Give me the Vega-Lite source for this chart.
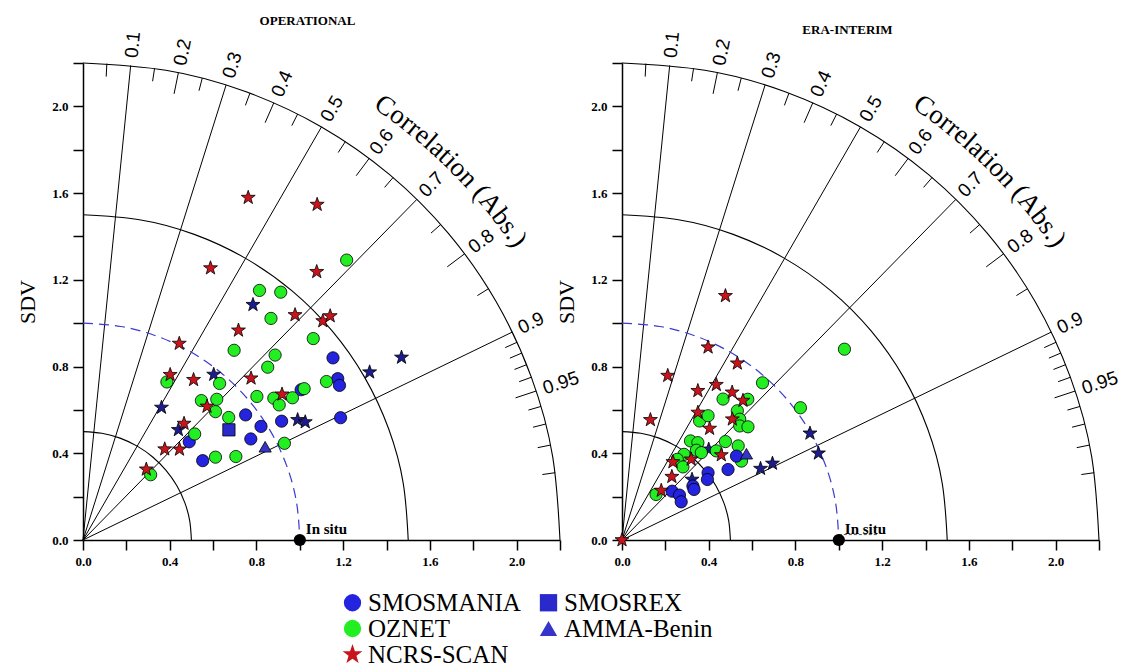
{
"$schema": "https://vega.github.io/schema/vega-lite/v6.json",
"background": "white",
"padding": {"left": 16, "top": 14, "right": 5, "bottom": 5},
"bounds": "flush",
"spacing": 62,
"config": {
 "view": {"stroke": null},
 "axis": {"grid": false, "domainColor": "black", "domainWidth": 1.5, "tickColor": "black", "tickWidth": 1.5, "tickSize": 10, "labelFont": "Liberation Serif", "labelFontWeight": "bold", "labelFontSize": 13, "labelColor": "black", "labelPadding": 5, "labelFlush": false, "labelOverlap": false, "labelBound": false, "titleFont": "Liberation Serif", "titleFontSize": 22, "titleFontWeight": "normal", "titleColor": "black"},
 "legend": {"labelFont": "Liberation Serif", "labelFontSize": 25, "labelColor": "black"},
 "title": {"font": "Liberation Serif", "fontSize": 13, "fontWeight": "bold", "color": "black", "frame": "group", "anchor": "middle"}
},
"datasets": {
 "arcSolid": [
  {"arc":"a05","x":0.5,"y":0},{"arc":"a05","x":0.4924,"y":0.0868},{"arc":"a05","x":0.4699,"y":0.171},{"arc":"a05","x":0.433,"y":0.25},{"arc":"a05","x":0.383,"y":0.3214},{"arc":"a05","x":0.3214,"y":0.383},{"arc":"a05","x":0.25,"y":0.433},{"arc":"a05","x":0.171,"y":0.4699},{"arc":"a05","x":0.0868,"y":0.4924},{"arc":"a05","x":0,"y":0.5},
  {"arc":"a15","x":1.5,"y":0},{"arc":"a15","x":1.4772,"y":0.2604},{"arc":"a15","x":1.4096,"y":0.513},{"arc":"a15","x":1.299,"y":0.75},{"arc":"a15","x":1.149,"y":0.9642},{"arc":"a15","x":0.9642,"y":1.149},{"arc":"a15","x":0.75,"y":1.299},{"arc":"a15","x":0.513,"y":1.4096},{"arc":"a15","x":0.2604,"y":1.4772},{"arc":"a15","x":0,"y":1.5},
  {"arc":"a22","x":2.2,"y":0},{"arc":"a22","x":2.1666,"y":0.3819},{"arc":"a22","x":2.0673,"y":0.7524},{"arc":"a22","x":1.9052,"y":1.1},{"arc":"a22","x":1.6852,"y":1.4142},{"arc":"a22","x":1.4142,"y":1.6852},{"arc":"a22","x":1.1,"y":1.9052},{"arc":"a22","x":0.7524,"y":2.0673},{"arc":"a22","x":0.3819,"y":2.1666},{"arc":"a22","x":0,"y":2.2}
 ],
 "arcDash": [
  {"x":1,"y":0},{"x":0.9848,"y":0.1736},{"x":0.9397,"y":0.342},{"x":0.866,"y":0.5},{"x":0.766,"y":0.6428},{"x":0.6428,"y":0.766},{"x":0.5,"y":0.866},{"x":0.342,"y":0.9397},{"x":0.1736,"y":0.9848},{"x":0,"y":1}
 ],
 "segments": [
  {"x1":0,"y1":0,"x2":0.22,"y2":2.189},{"x1":0,"y1":0,"x2":0.66,"y2":2.0987},{"x1":0,"y1":0,"x2":1.1,"y2":1.9053},{"x1":0,"y1":0,"x2":1.54,"y2":1.5711},{"x1":0,"y1":0,"x2":1.98,"y2":0.959},
  {"x1":0.44,"y1":2.1556,"x2":0.42,"y2":2.0576},{"x1":0.88,"y1":2.0163,"x2":0.84,"y2":1.9247},{"x1":1.32,"y1":1.76,"x2":1.26,"y2":1.68},{"x1":1.76,"y1":1.32,"x2":1.68,"y2":1.26},{"x1":2.09,"y1":0.687,"x2":1.995,"y2":0.6557},
  {"x1":0.11,"y1":2.1973,"x2":0.107,"y2":2.1373},{"x1":0.33,"y1":2.1751,"x2":0.321,"y2":2.1158},{"x1":0.55,"y1":2.1302,"x2":0.535,"y2":2.0721},{"x1":0.77,"y1":2.0609,"x2":0.749,"y2":2.0046},{"x1":0.99,"y1":1.9647,"x2":0.963,"y2":1.9111},{"x1":1.21,"y1":1.8374,"x2":1.177,"y2":1.7872},{"x1":1.43,"y1":1.6718,"x2":1.391,"y2":1.6263},{"x1":1.65,"y1":1.4552,"x2":1.605,"y2":1.4155},{"x1":1.87,"y1":1.1589,"x2":1.819,"y2":1.1273},
  {"x1":2.002,"y1":0.9121,"x2":1.9474,"y2":0.8873},{"x1":2.024,"y1":0.8622,"x2":1.9688,"y2":0.8387},{"x1":2.046,"y1":0.8086,"x2":1.9902,"y2":0.7866},{"x1":2.068,"y1":0.7506,"x2":2.0116,"y2":0.7301},{"x1":2.112,"y1":0.616,"x2":2.0544,"y2":0.5992},{"x1":2.134,"y1":0.5348,"x2":2.0758,"y2":0.5202},{"x1":2.156,"y1":0.4378,"x2":2.0972,"y2":0.4259},{"x1":2.178,"y1":0.3104,"x2":2.1186,"y2":0.3019}
 ],
 "clabels": [
  {"lab":"0.1","x":0.2235,"y":2.2238,"theta":84.26},{"lab":"0.2","x":0.447,"y":2.1899,"theta":78.46},{"lab":"0.3","x":0.6705,"y":2.1321,"theta":72.54},{"lab":"0.4","x":0.894,"y":2.0484,"theta":66.42},{"lab":"0.5","x":1.1175,"y":1.9356,"theta":60},{"lab":"0.6","x":1.341,"y":1.788,"theta":53.13},{"lab":"0.7","x":1.5645,"y":1.5961,"theta":45.57},{"lab":"0.8","x":1.788,"y":1.341,"theta":36.87},{"lab":"0.9","x":2.0115,"y":0.9742,"theta":25.84},{"lab":"0.95","x":2.1233,"y":0.6979,"theta":18.19}
 ],
 "ctext": [
  {"ch":"C","x":1.391,"y":2.001,"dir":-34.8},{"ch":"o","x":1.452,"y":1.957,"dir":-36.57},{"ch":"r","x":1.495,"y":1.925,"dir":-37.83},{"ch":"r","x":1.528,"y":1.898,"dir":-38.84},{"ch":"e","x":1.567,"y":1.867,"dir":-40.01},{"ch":"l","x":1.602,"y":1.836,"dir":-41.11},{"ch":"a","x":1.637,"y":1.805,"dir":-42.2},{"ch":"t","x":1.671,"y":1.774,"dir":-43.29},{"ch":"i","x":1.697,"y":1.749,"dir":-44.13},{"ch":"o","x":1.732,"y":1.714,"dir":-45.31},{"ch":"n","x":1.777,"y":1.668,"dir":-46.82},{"ch":"(","x":1.834,"y":1.604,"dir":-48.84},{"ch":"A","x":1.879,"y":1.552,"dir":-50.44},{"ch":"b","x":1.928,"y":1.49,"dir":-52.29},{"ch":"s","x":1.962,"y":1.445,"dir":-53.63},{"ch":".","x":1.986,"y":1.412,"dir":-54.6},{"ch":")","x":2.008,"y":1.381,"dir":-55.48}
 ],
 "ref": [{"x":1,"y":0,"label":"In situ"}],
 "refLine": [{"x":1.0,"x2":1.18,"y":0.025}],
 "opsPts": [
  {"net":"SMOSMANIA","x":1.153,"y":0.84},{"net":"SMOSMANIA","x":1.175,"y":0.744},{"net":"SMOSMANIA","x":1.183,"y":0.713},{"net":"SMOSMANIA","x":1.006,"y":0.693},{"net":"SMOSMANIA","x":0.75,"y":0.577},{"net":"SMOSMANIA","x":0.821,"y":0.524},{"net":"SMOSMANIA","x":0.916,"y":0.548},{"net":"SMOSMANIA","x":0.774,"y":0.466},{"net":"SMOSMANIA","x":0.49,"y":0.453},{"net":"SMOSMANIA","x":0.552,"y":0.366},{"net":"SMOSMANIA","x":1.188,"y":0.564},
  {"net":"SMOSREX","x":0.673,"y":0.508},
  {"net":"AMMA-Benin","x":0.84,"y":0.43},
  {"net":"OZNET","x":1.216,"y":1.291},{"net":"OZNET","x":0.814,"y":1.151},{"net":"OZNET","x":0.912,"y":1.143},{"net":"OZNET","x":0.867,"y":1.022},{"net":"OZNET","x":1.062,"y":0.929},{"net":"OZNET","x":0.697,"y":0.875},{"net":"OZNET","x":0.886,"y":0.853},{"net":"OZNET","x":0.852,"y":0.797},{"net":"OZNET","x":0.387,"y":0.729},{"net":"OZNET","x":0.63,"y":0.722},{"net":"OZNET","x":1.123,"y":0.731},{"net":"OZNET","x":1.02,"y":0.698},{"net":"OZNET","x":0.802,"y":0.662},{"net":"OZNET","x":0.88,"y":0.654},{"net":"OZNET","x":0.966,"y":0.656},{"net":"OZNET","x":0.905,"y":0.623},{"net":"OZNET","x":0.546,"y":0.643},{"net":"OZNET","x":0.617,"y":0.649},{"net":"OZNET","x":0.611,"y":0.592},{"net":"OZNET","x":0.672,"y":0.565},{"net":"OZNET","x":0.515,"y":0.489},{"net":"OZNET","x":0.611,"y":0.382},{"net":"OZNET","x":0.705,"y":0.385},{"net":"OZNET","x":0.929,"y":0.446},{"net":"OZNET","x":0.312,"y":0.301},
  {"net":"NCRS-SCAN","x":0.762,"y":1.579},{"net":"NCRS-SCAN","x":1.08,"y":1.547},{"net":"NCRS-SCAN","x":0.588,"y":1.254},{"net":"NCRS-SCAN","x":1.078,"y":1.237},{"net":"NCRS-SCAN","x":0.978,"y":1.038},{"net":"NCRS-SCAN","x":1.106,"y":1.01},{"net":"NCRS-SCAN","x":1.14,"y":1.033},{"net":"NCRS-SCAN","x":0.717,"y":0.967},{"net":"NCRS-SCAN","x":0.444,"y":0.906},{"net":"NCRS-SCAN","x":0.402,"y":0.762},{"net":"NCRS-SCAN","x":0.51,"y":0.739},{"net":"NCRS-SCAN","x":0.775,"y":0.746},{"net":"NCRS-SCAN","x":0.918,"y":0.672},{"net":"NCRS-SCAN","x":0.572,"y":0.616},{"net":"NCRS-SCAN","x":0.466,"y":0.537},{"net":"NCRS-SCAN","x":0.377,"y":0.419},{"net":"NCRS-SCAN","x":0.445,"y":0.418},{"net":"NCRS-SCAN","x":0.292,"y":0.326},
  {"net":"other","x":0.784,"y":1.085},{"net":"other","x":0.603,"y":0.763},{"net":"other","x":0.362,"y":0.611},{"net":"other","x":0.44,"y":0.508},{"net":"other","x":0.99,"y":0.554},{"net":"other","x":1.025,"y":0.544},{"net":"other","x":1.322,"y":0.774},{"net":"other","x":1.469,"y":0.842}
 ],
 "eraPts": [
  {"net":"OZNET","x":1.026,"y":0.88},{"net":"OZNET","x":0.648,"y":0.725},{"net":"OZNET","x":0.823,"y":0.61},{"net":"OZNET","x":0.58,"y":0.649},{"net":"OZNET","x":0.466,"y":0.65},{"net":"OZNET","x":0.532,"y":0.596},{"net":"OZNET","x":0.543,"y":0.557},{"net":"OZNET","x":0.543,"y":0.526},{"net":"OZNET","x":0.581,"y":0.522},{"net":"OZNET","x":0.536,"y":0.434},{"net":"OZNET","x":0.551,"y":0.364},{"net":"OZNET","x":0.358,"y":0.549},{"net":"OZNET","x":0.397,"y":0.573},{"net":"OZNET","x":0.316,"y":0.457},{"net":"OZNET","x":0.35,"y":0.449},{"net":"OZNET","x":0.343,"y":0.414},{"net":"OZNET","x":0.366,"y":0.403},{"net":"OZNET","x":0.435,"y":0.411},{"net":"OZNET","x":0.477,"y":0.454},{"net":"OZNET","x":0.286,"y":0.395},{"net":"OZNET","x":0.255,"y":0.372},{"net":"OZNET","x":0.281,"y":0.337},{"net":"OZNET","x":0.157,"y":0.21},
  {"net":"SMOSMANIA","x":0.528,"y":0.387},{"net":"SMOSMANIA","x":0.489,"y":0.325},{"net":"SMOSMANIA","x":0.231,"y":0.225},{"net":"SMOSMANIA","x":0.265,"y":0.207},{"net":"SMOSMANIA","x":0.273,"y":0.176},{"net":"SMOSMANIA","x":0.327,"y":0.249},{"net":"SMOSMANIA","x":0.332,"y":0.233},{"net":"SMOSMANIA","x":0.397,"y":0.31},{"net":"SMOSMANIA","x":0.394,"y":0.279},
  {"net":"AMMA-Benin","x":0.574,"y":0.398},
  {"net":"NCRS-SCAN","x":0.477,"y":1.126},{"net":"NCRS-SCAN","x":0.397,"y":0.889},{"net":"NCRS-SCAN","x":0.532,"y":0.815},{"net":"NCRS-SCAN","x":0.211,"y":0.758},{"net":"NCRS-SCAN","x":0.35,"y":0.688},{"net":"NCRS-SCAN","x":0.435,"y":0.716},{"net":"NCRS-SCAN","x":0.508,"y":0.681},{"net":"NCRS-SCAN","x":0.558,"y":0.643},{"net":"NCRS-SCAN","x":0.131,"y":0.554},{"net":"NCRS-SCAN","x":0.35,"y":0.588},{"net":"NCRS-SCAN","x":0.404,"y":0.514},{"net":"NCRS-SCAN","x":0.509,"y":0.557},{"net":"NCRS-SCAN","x":0.458,"y":0.392},{"net":"NCRS-SCAN","x":0.319,"y":0.372},{"net":"NCRS-SCAN","x":0.235,"y":0.36},{"net":"NCRS-SCAN","x":0.23,"y":0.292},{"net":"NCRS-SCAN","x":0.181,"y":0.228},{"net":"NCRS-SCAN","x":0,"y":0},
  {"net":"other","x":0.867,"y":0.492},{"net":"other","x":0.906,"y":0.4},{"net":"other","x":0.694,"y":0.353},{"net":"other","x":0.639,"y":0.329},{"net":"other","x":0.4,"y":0.418},{"net":"other","x":0.323,"y":0.279}
 ]
},
"hconcat": [
 {
  "width": 477, "height": 477,
  "title": {"text": "OPERATIONAL", "offset": 3, "dx": -14},
  "layer": [
   {"data": {"name": "arcSolid"}, "mark": {"type": "line", "interpolate": "natural", "color": "black", "strokeWidth": 1.1},
    "encoding": {
     "x": {"field": "x", "type": "quantitative", "scale": {"domain": [0, 2.2], "nice": false}, "axis": {"title": null, "values": [0,0.2,0.4,0.6,0.8,1.0,1.2,1.4,1.6,1.8,2.0,2.2], "labelExpr": "round(datum.value*10)%4==0 ? format(datum.value,'.1f') : ''"}},
     "y": {"field": "y", "type": "quantitative", "scale": {"domain": [0, 2.2], "nice": false}, "axis": {"title": "SDV", "titlePadding": 12, "values": [0,0.2,0.4,0.6,0.8,1.0,1.2,1.4,1.6,1.8,2.0,2.2], "labelExpr": "round(datum.value*10)%4==0 ? format(datum.value,'.1f') : ''"}},
     "detail": {"field": "arc"}}},
   {"data": {"name": "segments"}, "mark": {"type": "rule", "color": "black", "strokeWidth": 1},
    "encoding": {"x": {"field": "x1", "type": "quantitative"}, "y": {"field": "y1", "type": "quantitative"}, "x2": {"field": "x2"}, "y2": {"field": "y2"}}},
   {"data": {"name": "arcDash"}, "mark": {"type": "line", "interpolate": "natural", "color": "#3a3ad0", "strokeWidth": 1.2, "strokeDash": [10, 6]},
    "encoding": {"x": {"field": "x", "type": "quantitative"}, "y": {"field": "y", "type": "quantitative"}}},
   {"data": {"name": "clabels"}, "mark": {"type": "text", "align": "left", "baseline": "middle", "font": "Liberation Sans", "fontSize": 19, "color": "black"},
    "encoding": {"x": {"field": "x", "type": "quantitative"}, "y": {"field": "y", "type": "quantitative"}, "text": {"field": "lab"}, "angle": {"field": "theta", "type": "quantitative", "scale": {"domain": [-90, 90], "range": [450, 270]}}}},
   {"data": {"name": "ctext"}, "mark": {"type": "text", "align": "center", "baseline": "middle", "font": "Liberation Serif", "fontSize": 27, "color": "black"},
    "encoding": {"x": {"field": "x", "type": "quantitative"}, "y": {"field": "y", "type": "quantitative"}, "text": {"field": "ch"}, "angle": {"field": "dir", "type": "quantitative", "scale": {"domain": [-90, 90], "range": [450, 270]}}}},
   {"data": {"name": "opsPts"}, "transform": [{"filter": "datum.net == 'other'"}],
    "mark": {"type": "point", "filled": true, "size": 150, "opacity": 1, "fill": "#1c1c8e", "stroke": "black", "strokeWidth": 0.8, "shape": "M0,-1.2L0.2821,-0.3883L1.1413,-0.3708L0.4565,0.1483L0.7054,0.9708L0,0.48L-0.7054,0.9708L-0.4565,0.1483L-1.1413,-0.3708L-0.2821,-0.3883Z"},
    "encoding": {"x": {"field": "x", "type": "quantitative"}, "y": {"field": "y", "type": "quantitative"}}},
   {"data": {"name": "opsPts"}, "transform": [{"filter": "datum.net != 'other'"}],
    "mark": {"type": "point", "filled": true, "size": 150, "opacity": 1, "stroke": "black", "strokeWidth": 0.8},
    "encoding": {"x": {"field": "x", "type": "quantitative"}, "y": {"field": "y", "type": "quantitative"},
     "fill": {"field": "net", "type": "nominal", "scale": {"domain": ["SMOSMANIA", "OZNET", "NCRS-SCAN", "SMOSREX", "AMMA-Benin"], "range": ["#2323e0", "#22ee22", "#c8141c", "#2a2acc", "#3535cc"]},
      "legend": {"title": null, "orient": "none", "legendX": 257, "legendY": 527, "columns": 2, "labelFont": "Liberation Serif", "labelFontSize": 25, "labelColor": "black", "symbolSize": 300, "symbolStrokeColor": "black", "symbolStrokeWidth": 1, "rowPadding": 0, "columnPadding": 15, "labelOffset": 3, "labelLimit": 400, "padding": 0}},
     "shape": {"field": "net", "type": "nominal", "scale": {"domain": ["SMOSMANIA", "OZNET", "NCRS-SCAN", "SMOSREX", "AMMA-Benin"], "range": ["circle", "circle", "M0,-1.2L0.2821,-0.3883L1.1413,-0.3708L0.4565,0.1483L0.7054,0.9708L0,0.48L-0.7054,0.9708L-0.4565,0.1483L-1.1413,-0.3708L-0.2821,-0.3883Z", "square", "triangle-up"]},
      "legend": {"title": null, "orient": "none", "legendX": 257, "legendY": 527, "columns": 2, "labelFont": "Liberation Serif", "labelFontSize": 25, "labelColor": "black", "symbolSize": 300, "symbolStrokeColor": "black", "symbolStrokeWidth": 1, "rowPadding": 0, "columnPadding": 15, "labelOffset": 3, "labelLimit": 400, "padding": 0}}}},
   {"data": {"name": "ref"}, "mark": {"type": "point", "filled": true, "size": 150, "color": "black", "opacity": 1},
    "encoding": {"x": {"field": "x", "type": "quantitative"}, "y": {"field": "y", "type": "quantitative"}}},
   {"data": {"name": "ref"}, "mark": {"type": "text", "align": "left", "baseline": "bottom", "dx": 6, "dy": -3, "font": "Liberation Serif", "fontWeight": "bold", "fontSize": 15, "color": "black"},
    "encoding": {"x": {"field": "x", "type": "quantitative"}, "y": {"field": "y", "type": "quantitative"}, "text": {"field": "label"}}}
  ]
 },
 {
  "width": 477, "height": 477,
  "title": {"text": "ERA-INTERIM", "offset": -6, "dx": -13},
  "layer": [
   {"data": {"name": "arcSolid"}, "mark": {"type": "line", "interpolate": "natural", "color": "black", "strokeWidth": 1.1},
    "encoding": {
     "x": {"field": "x", "type": "quantitative", "scale": {"domain": [0, 2.2], "nice": false}, "axis": {"title": null, "values": [0,0.2,0.4,0.6,0.8,1.0,1.2,1.4,1.6,1.8,2.0,2.2], "labelExpr": "round(datum.value*10)%4==0 ? format(datum.value,'.1f') : ''"}},
     "y": {"field": "y", "type": "quantitative", "scale": {"domain": [0, 2.2], "nice": false}, "axis": {"title": "SDV", "titlePadding": 12, "values": [0,0.2,0.4,0.6,0.8,1.0,1.2,1.4,1.6,1.8,2.0,2.2], "labelExpr": "round(datum.value*10)%4==0 ? format(datum.value,'.1f') : ''"}},
     "detail": {"field": "arc"}}},
   {"data": {"name": "segments"}, "mark": {"type": "rule", "color": "black", "strokeWidth": 1},
    "encoding": {"x": {"field": "x1", "type": "quantitative"}, "y": {"field": "y1", "type": "quantitative"}, "x2": {"field": "x2"}, "y2": {"field": "y2"}}},
   {"data": {"name": "arcDash"}, "mark": {"type": "line", "interpolate": "natural", "color": "#3a3ad0", "strokeWidth": 1.2, "strokeDash": [10, 6]},
    "encoding": {"x": {"field": "x", "type": "quantitative"}, "y": {"field": "y", "type": "quantitative"}}},
   {"data": {"name": "refLine"}, "mark": {"type": "rule", "color": "#555555", "strokeWidth": 1, "strokeDash": [3, 2]},
    "encoding": {"x": {"field": "x", "type": "quantitative"}, "x2": {"field": "x2"}, "y": {"field": "y", "type": "quantitative"}}},
   {"data": {"name": "clabels"}, "mark": {"type": "text", "align": "left", "baseline": "middle", "font": "Liberation Sans", "fontSize": 19, "color": "black"},
    "encoding": {"x": {"field": "x", "type": "quantitative"}, "y": {"field": "y", "type": "quantitative"}, "text": {"field": "lab"}, "angle": {"field": "theta", "type": "quantitative", "scale": {"domain": [-90, 90], "range": [450, 270]}}}},
   {"data": {"name": "ctext"}, "mark": {"type": "text", "align": "center", "baseline": "middle", "font": "Liberation Serif", "fontSize": 27, "color": "black"},
    "encoding": {"x": {"field": "x", "type": "quantitative"}, "y": {"field": "y", "type": "quantitative"}, "text": {"field": "ch"}, "angle": {"field": "dir", "type": "quantitative", "scale": {"domain": [-90, 90], "range": [450, 270]}}}},
   {"data": {"name": "eraPts"}, "transform": [{"filter": "datum.net == 'other'"}],
    "mark": {"type": "point", "filled": true, "size": 150, "opacity": 1, "fill": "#1c1c8e", "stroke": "black", "strokeWidth": 0.8, "shape": "M0,-1.2L0.2821,-0.3883L1.1413,-0.3708L0.4565,0.1483L0.7054,0.9708L0,0.48L-0.7054,0.9708L-0.4565,0.1483L-1.1413,-0.3708L-0.2821,-0.3883Z"},
    "encoding": {"x": {"field": "x", "type": "quantitative"}, "y": {"field": "y", "type": "quantitative"}}},
   {"data": {"name": "eraPts"}, "transform": [{"filter": "datum.net != 'other'"}],
    "mark": {"type": "point", "filled": true, "size": 150, "opacity": 1, "stroke": "black", "strokeWidth": 0.8},
    "encoding": {"x": {"field": "x", "type": "quantitative"}, "y": {"field": "y", "type": "quantitative"},
     "fill": {"field": "net", "type": "nominal", "scale": {"domain": ["SMOSMANIA", "OZNET", "NCRS-SCAN", "SMOSREX", "AMMA-Benin"], "range": ["#2323e0", "#22ee22", "#c8141c", "#2a2acc", "#3535cc"]},
      "legend": {"title": null, "orient": "none", "legendX": 257, "legendY": 527, "columns": 2, "labelFont": "Liberation Serif", "labelFontSize": 25, "labelColor": "black", "symbolSize": 300, "symbolStrokeColor": "black", "symbolStrokeWidth": 1, "rowPadding": 0, "columnPadding": 15, "labelOffset": 3, "labelLimit": 400, "padding": 0}},
     "shape": {"field": "net", "type": "nominal", "scale": {"domain": ["SMOSMANIA", "OZNET", "NCRS-SCAN", "SMOSREX", "AMMA-Benin"], "range": ["circle", "circle", "M0,-1.2L0.2821,-0.3883L1.1413,-0.3708L0.4565,0.1483L0.7054,0.9708L0,0.48L-0.7054,0.9708L-0.4565,0.1483L-1.1413,-0.3708L-0.2821,-0.3883Z", "square", "triangle-up"]},
      "legend": {"title": null, "orient": "none", "legendX": 257, "legendY": 527, "columns": 2, "labelFont": "Liberation Serif", "labelFontSize": 25, "labelColor": "black", "symbolSize": 300, "symbolStrokeColor": "black", "symbolStrokeWidth": 1, "rowPadding": 0, "columnPadding": 15, "labelOffset": 3, "labelLimit": 400, "padding": 0}}}},
   {"data": {"name": "ref"}, "mark": {"type": "point", "filled": true, "size": 150, "color": "black", "opacity": 1},
    "encoding": {"x": {"field": "x", "type": "quantitative"}, "y": {"field": "y", "type": "quantitative"}}},
   {"data": {"name": "ref"}, "mark": {"type": "text", "align": "left", "baseline": "bottom", "dx": 6, "dy": -3, "font": "Liberation Serif", "fontWeight": "bold", "fontSize": 15, "color": "black"},
    "encoding": {"x": {"field": "x", "type": "quantitative"}, "y": {"field": "y", "type": "quantitative"}, "text": {"field": "label"}}}
  ]
 }
]
}
